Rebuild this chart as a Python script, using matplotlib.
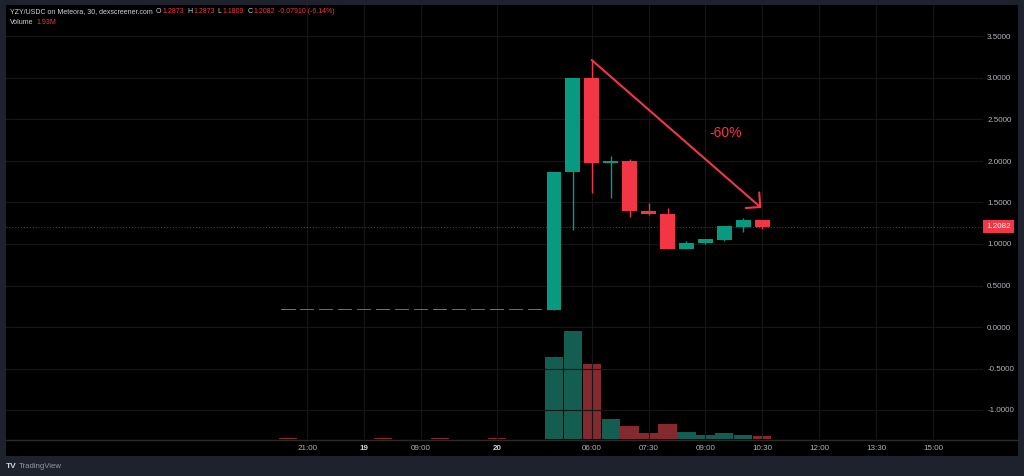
import matplotlib
matplotlib.use("Agg")
import matplotlib.pyplot as plt
from matplotlib.patches import Rectangle
from matplotlib.lines import Line2D

plt.rcParams['font.family'] = ['Liberation Sans', 'DejaVu Sans']

# ---- data (30 min candles, bar index on x) ----
opens = [0.200, 0.199, 0.200, 0.200, 0.201, 0.201, 0.200, 0.200, 0.201, 0.200, 0.200, 0.201, 0.200, 0.200,
         0.20, 1.87, 3.00, 1.97, 2.00, 1.40, 1.36, 0.94, 1.01, 1.05, 1.21, 1.2873]
highs = [0.201, 0.200, 0.200, 0.201, 0.201, 0.201, 0.200, 0.201, 0.201, 0.200, 0.201, 0.201, 0.200, 0.201,
         1.87, 3.00, 3.22, 2.06, 2.03, 1.49, 1.43, 1.04, 1.06, 1.22, 1.31, 1.2873]
lows = [0.199, 0.199, 0.199, 0.200, 0.200, 0.199, 0.200, 0.200, 0.199, 0.200, 0.200, 0.199, 0.200, 0.200,
        0.20, 1.17, 1.61, 1.55, 1.33, 1.35, 0.94, 0.94, 1.00, 1.04, 1.14, 1.1809]
closes = [0.199, 0.200, 0.200, 0.201, 0.201, 0.200, 0.200, 0.201, 0.200, 0.200, 0.201, 0.200, 0.200, 0.200,
          1.87, 3.00, 1.97, 2.00, 1.40, 1.36, 0.94, 1.01, 1.06, 1.22, 1.2873, 1.2082]
volumes_m = [0.3, 0.2, 0.2, 0.2, 0.2, 0.3, 0.2, 0.2, 0.3, 0.2, 0.2, 0.3, 0.2, 0.2,
             47.8, 63.4, 43.9, 11.9, 7.4, 3.5, 9.0, 3.9, 2.2, 3.5, 2.5, 1.93]

tick_pos = [1, 4, 7, 11, 16, 19, 22, 25, 28, 31, 34]
tick_labels = ['21:00', '19', '09:00', '20', '06:00', '07:30', '09:00', '10:30', '12:00', '13:30', '15:00']
bold_ticks = ['19', '20']

price_ticks = [-1.0, -0.5, 0.0, 0.5, 1.0, 1.5, 2.0, 2.5, 3.0, 3.5]
last_price = 1.2082

arrow_start = (16.0, 3.217)
arrow_end = (24.95, 1.434)
drop_label = '-60%'
drop_label_pos = (23.05, 2.337)

header_parts = [('YZY/USDC on Meteora, 30, dexscreener.com', 'g', 2), ('O', 'g', 0), ('1.2873', 'r', 2),
                ('H', 'g', 0), ('1.2873', 'r', 2), ('L', 'g', 0), ('1.1809', 'r', 2),
                ('C', 'g', 0), ('1.2082', 'r', 2), ('-0.07910 (-6.14%)', 'r', 0)]
volume_parts = [('Volume', 'g', 2), ('1.93M', 'r', 0)]

# ---- style ----
UP = '#089981'
DOWN = '#f23645'
VOL_UP = '#135e51'
VOL_DOWN = '#83292f'
BORDER = '#1e222d'
GRID = '#161616'
TXT = '#b2b5be'
GREY = '#d1d4dc'

W, H = 1024, 476
fig = plt.figure(figsize=(W / 100, H / 100), dpi=100, facecolor=BORDER)


def px(x0, y0, x1, y1):
    # pixel box -> figure fraction rect
    return [x0 / W, 1 - y1 / H, (x1 - x0) / W, (y1 - y0) / H]


# black chart panel
fig.patches.append(Rectangle((6 / W, 1 - 456 / H), 1012 / W, 451 / H,
                             transform=fig.transFigure, facecolor='#000000',
                             edgecolor='none', zorder=-5))
fig.lines.append(Line2D([6 / W, 1018 / W], [1 - 439.5 / H, 1 - 439.5 / H],
                        transform=fig.transFigure, color='#2a2a2a', lw=1, zorder=-4))

ax = fig.add_axes(px(6, 5, 983, 439))
vax = ax.twinx()
ax.set_zorder(2)
vax.set_zorder(1)
ax.patch.set_visible(False)
vax.patch.set_visible(False)

x0_px, step_px = 288.3, 18.96
ax.set_xlim((6 - x0_px) / step_px, (983 - x0_px) / step_px)
ax.set_ylim((327 - 439) / 83, (327 - 5) / 83)
vax.set_ylim(0, 254)

n = len(opens)
idx = list(range(n))

# volume bars
vcols = [VOL_UP if c >= o else VOL_DOWN for o, c in zip(opens, closes)]
vax.bar(idx, volumes_m, width=0.96, color=vcols, edgecolor='none')

# candles
for i in idx:
    o, h, l, c = opens[i], highs[i], lows[i], closes[i]
    col = UP if c >= o else DOWN
    if h - l > 0.01:
        ax.vlines(i, l, h, color=col, lw=1, zorder=3)
    ax.bar(i, max(abs(c - o), 0.012), bottom=min(o, c), width=0.76,
           color=col, edgecolor='none', zorder=4)

# grid
for yv in price_ticks:
    ax.axhline(yv, color=GRID, lw=0.8, zorder=0.5)
for xv in tick_pos:
    ax.axvline(xv, color=GRID, lw=0.8, zorder=0.5)

# last price line and label
ax.axhline(last_price, color=DOWN, lw=0.7, ls=(0, (1, 2)), alpha=0.7, zorder=2)
ax.annotate(f'{last_price:.4f}', xy=(1, last_price), xycoords=('axes fraction', 'data'),
            xytext=(2.5, 0), textcoords='offset points', ha='left', va='center',
            fontsize=5.8, color='white',
            bbox=dict(boxstyle='square,pad=0.4', fc=DOWN, ec='none'), zorder=6,
            annotation_clip=False)

# arrow and label
ax.annotate('', xy=arrow_end, xytext=arrow_start,
            arrowprops=dict(arrowstyle='->,head_length=0.5,head_width=0.5',
                            color=DOWN, lw=1.5, mutation_scale=14.8,
                            shrinkA=0, shrinkB=0), zorder=5)
ax.text(drop_label_pos[0], drop_label_pos[1], drop_label, color='#f23645',
        fontsize=10, ha='center', va='center', zorder=5)

# axes cosmetics
for a in (ax, vax):
    for s in a.spines.values():
        s.set_visible(False)
vax.set_yticks([])
vax.set_xticks([])
ax.yaxis.tick_right()
ax.set_yticks(price_ticks)
ax.set_yticklabels([f'{v:.4f}' for v in price_ticks])
ax.tick_params(axis='y', length=0, pad=3, labelsize=5.8, labelcolor=TXT)
ax.set_xticks(tick_pos)
ax.set_xticklabels(tick_labels)
ax.tick_params(axis='x', length=0, pad=4.5, labelsize=5.8, labelcolor=TXT)
for t in ax.get_xticklabels():
    if t.get_text() in bold_ticks:
        t.set_fontweight('bold')
        t.set_color(GREY)

# header legend, pieces chained left to right
renderer = fig.canvas.get_renderer()


def chain(parts, x, y):
    for s, c, gap in parts:
        t = fig.text(x / W, 1 - y / H, s, color=GREY if c == 'g' else DOWN,
                     fontsize=5.0, va='center', ha='left')
        x = t.get_window_extent(renderer).x1 + 1 + gap


chain(header_parts, 10, 11.5)
chain(volume_parts, 10, 22.5)

# footer
fig.text(6 / W, 1 - 467 / H, 'TV', color=GREY, fontsize=6, fontweight='bold', va='center')
fig.text(19 / W, 1 - 467 / H, 'TradingView', color='#9598a1', fontsize=5.6, va='center')

fig.savefig('out.png', dpi=100, facecolor=BORDER)
